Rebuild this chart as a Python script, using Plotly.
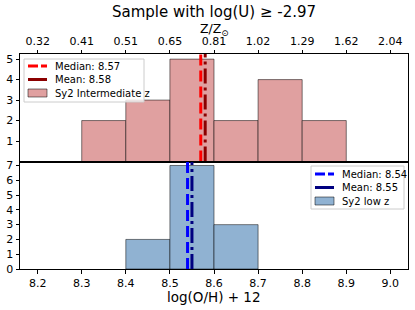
import plotly.graph_objects as go
from plotly.subplots import make_subplots

# Data
bin_centers_top = [8.35, 8.45, 8.55, 8.65, 8.75, 8.85]
counts_top = [2, 3, 5, 2, 4, 2]
bin_centers_bot = [8.45, 8.55, 8.65]
counts_bot = [2, 7, 3]
median_top, mean_top = 8.57, 8.58
median_bot, mean_bot = 8.54, 8.55
x_ticks = [8.2, 8.3, 8.4, 8.5, 8.6, 8.7, 8.8, 8.9, 9.0]
z_tick_labels = ["0.32", "0.41", "0.51", "0.65", "0.81", "1.02", "1.29", "1.62", "2.04"]
y_top_ticks = [1, 2, 3, 4, 5]
y_bot_ticks = [0, 1, 2, 3, 4, 5, 6, 7]

FONT = "DejaVu Sans"
W, H = 415, 310
ML, MR, MT, MB = 20, 7, 54, 41
PW, PH = W - ML - MR, H - MT - MB
ytop_max = 5.25
ybot_max = 7.27

RED_BAR = "#e0a0a0"
BLUE_BAR = "#90b2d2"
EDGE = "rgba(0,0,0,0.5)"
DASH = "11px,5px"
DASHDOT = "15px,4px,3px,4px"


def px(xp):
    return (xp - ML) / PW


def py(yp):
    return (H - MB - yp) / PH


fig = make_subplots(rows=2, cols=1, shared_xaxes=True, vertical_spacing=0)

# Top panel
fig.add_trace(go.Bar(x=bin_centers_top, y=counts_top, width=0.1,
                     marker=dict(color=RED_BAR, line=dict(color=EDGE, width=1)),
                     name="Sy2 Intermediate z", showlegend=False), row=1, col=1)
fig.add_trace(go.Scatter(x=[median_top, median_top], y=[0, ytop_max], mode="lines",
                         line=dict(color="#ff0000", width=3, dash=DASH),
                         name=f"Median: {median_top:.2f}", showlegend=False), row=1, col=1)
fig.add_trace(go.Scatter(x=[mean_top, mean_top], y=[0, ytop_max], mode="lines",
                         line=dict(color="#8b0000", width=3, dash=DASHDOT),
                         name=f"Mean: {mean_top:.2f}", showlegend=False), row=1, col=1)

# Bottom panel
fig.add_trace(go.Bar(x=bin_centers_bot, y=counts_bot, width=0.1,
                     marker=dict(color=BLUE_BAR, line=dict(color=EDGE, width=1)),
                     name="Sy2 low z", showlegend=False), row=2, col=1)
fig.add_trace(go.Scatter(x=[median_bot, median_bot], y=[0, ybot_max], mode="lines",
                         line=dict(color="#0000ff", width=3, dash=DASH),
                         name=f"Median: {median_bot:.2f}", showlegend=False), row=2, col=1)
fig.add_trace(go.Scatter(x=[mean_bot, mean_bot], y=[0, ybot_max], mode="lines",
                         line=dict(color="#000080", width=3, dash=DASHDOT),
                         name=f"Mean: {mean_bot:.2f}", showlegend=False), row=2, col=1)

axis_common = dict(showline=True, linecolor="black", linewidth=1, mirror=True,
                   ticks="outside", ticklen=3.5, tickcolor="black", automargin=False,
                   tickfont=dict(family=FONT, size=11, color="black"),
                   showgrid=False, zeroline=False)

fig.update_xaxes(range=[8.16, 9.04], **axis_common)
fig.update_xaxes(row=1, col=1, side="top", showticklabels=True, tickvals=x_ticks,
                 ticktext=z_tick_labels)
fig.update_xaxes(row=2, col=1, tickvals=x_ticks, ticktext=[f"{v:.1f}" for v in x_ticks])
fig.update_yaxes(**axis_common)
fig.update_yaxes(row=1, col=1, range=[0, ytop_max], tickvals=y_top_ticks)
fig.update_yaxes(row=2, col=1, range=[0, ybot_max], tickvals=y_bot_ticks)

annotations = [
    dict(text="Sample with log(U) \u2265 -2.97", x=0.5, y=py(12), xref="paper", yref="paper",
         xanchor="center", yanchor="middle", showarrow=False,
         font=dict(family=FONT, size=15, color="black")),
    dict(text="Z/Z<sub>\u2299</sub>", x=px(214), y=py(29), xref="paper", yref="paper",
         xanchor="center", yanchor="middle", showarrow=False,
         font=dict(family=FONT, size=12.5, color="black")),
    dict(text="log(O/H) + 12", x=px(214), y=py(296.5), xref="paper", yref="paper",
         xanchor="center", yanchor="middle", showarrow=False,
         font=dict(family=FONT, size=13.5, color="black")),
]
shapes = []


def add_legend(box, entries):
    x0, y0, x1, y1 = box
    shapes.append(dict(type="rect", xref="paper", yref="paper", x0=px(x0), x1=px(x1),
                       y0=py(y0), y1=py(y1), line=dict(color="#cccccc", width=1),
                       fillcolor="rgba(255,255,255,0.8)", layer="above"))
    for kind, color, label, yc in entries:
        hx0, hx1 = x0 + 4, x0 + 23
        if kind == "patch":
            shapes.append(dict(type="rect", xref="paper", yref="paper", x0=px(hx0), x1=px(hx1),
                               y0=py(yc - 4), y1=py(yc + 4), fillcolor=color,
                               line=dict(color=EDGE, width=1), layer="above"))
        else:
            shapes.append(dict(type="line", xref="paper", yref="paper", x0=px(hx0), x1=px(hx1),
                               y0=py(yc), y1=py(yc), layer="above",
                               line=dict(color=color, width=3,
                                         dash="10px,3px" if kind == "dash" else "solid")))
        annotations.append(dict(text=label, x=px(x0 + 29), y=py(yc), xref="paper", yref="paper",
                                xanchor="left", yanchor="middle", showarrow=False,
                                font=dict(family=FONT, size=10, color="black")))


add_legend((24, 59, 144, 102), [
    ("dash", "#ff0000", f"Median: {median_top:.2f}", 66),
    ("solid", "#8b0000", f"Mean: {mean_top:.2f}", 79.5),
    ("patch", RED_BAR, "Sy2 Intermediate z", 93),
])
add_legend((311, 166, 404, 209), [
    ("dash", "#0000ff", f"Median: {median_bot:.2f}", 174),
    ("solid", "#000080", f"Mean: {mean_bot:.2f}", 187.5),
    ("patch", BLUE_BAR, "Sy2 low z", 201),
])

fig.update_layout(
    width=W, height=H,
    margin=dict(l=ML, r=MR, t=MT, b=MB),
    paper_bgcolor="white", plot_bgcolor="white",
    barmode="overlay", showlegend=False,
    annotations=annotations, shapes=shapes,
    font=dict(family=FONT, color="black"),
)

fig.write_html("out.html", config={"displayModeBar": False},
               post_script="document.body.style.margin='0';document.body.style.overflow='hidden';")
